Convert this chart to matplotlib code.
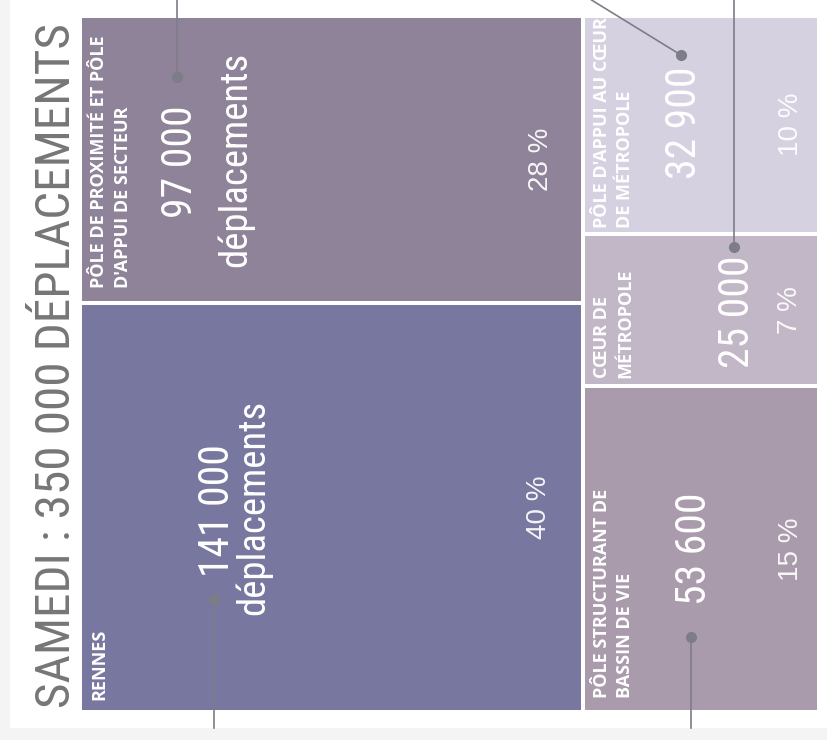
import matplotlib
matplotlib.use('Agg')
import matplotlib.pyplot as plt
from matplotlib.patches import Rectangle

# données : déplacements du samedi par type de pôle
zones = ['RENNES',
         "PÔLE DE PROXIMITÉ ET PÔLE\nD'APPUI DE SECTEUR",
         'PÔLE STRUCTURANT DE\nBASSIN DE VIE',
         'CŒUR DE\nMÉTROPOLE',
         "PÔLE D'APPUI AU CŒUR\nDE MÉTROPOLE"]
trips = [141000, 97000, 53600, 25000, 32900]
shares = [40, 28, 15, 7, 10]
column = [0, 0, 1, 1, 1]
unit = ['déplacements', 'déplacements', '', '', '']
title = 'SAMEDI : 350 000 DÉPLACEMENTS'

colors = ['#77779f', '#8e8398', '#a99bac', '#c1b7c7', '#d6d1e0']

# mise en page (pixels de la figure)
W, H = 827, 740
bx0, by0, bx1, by1 = 80, 16, 819, 712
inset = 2
label_dy = [10, 13, 12, 6, 3]             # début de l'étiquette depuis le bas du bloc
num_base = [147, 110, 121, 164, 111]      # ligne de base du nombre depuis le bord gauche
unit_base = [182, 164, 0, 0, 0]
num_dy = [3, 2, 0, 2, -2]
pct_off = [35, 33, 19, 20, 19]           # ligne de base du % depuis le bord droit
dot_dy = [92, -82, 88, -63, -70]
lead_to = [(0, 728), (0, 0), (0, 728), (0, 0), (-89, 0)]

cond = 'Roboto Condensed'
label_font = dict(family='Open Sans', fontstretch='condensed', fontweight='bold')

fig = plt.figure(figsize=(W / 100, H / 100), dpi=100, facecolor='#f4f4f4')
ax = fig.add_axes([0, 0, 1, 1])
ax.set_xlim(0, W)
ax.set_ylim(H, 0)
ax.axis('off')

ax.add_patch(Rectangle((10, 0), W - 10, 728, fc='white', ec='none', zorder=0))

ax.text(70, 708, title, rotation=90, rotation_mode='anchor', ha='left', va='baseline',
        fontsize=35.5, family=cond, color='#767676')

total = sum(shares)
col_share = [sum(s for s, c in zip(shares, column) if c == k) for k in (0, 1)]
col_x = [bx0, bx0 + (bx1 - bx0) * col_share[0] / total]
col_w = [col_x[1] - bx0, bx1 - col_x[1]]
col_top = [by1, by1]

for i in range(len(zones)):
    c = column[i]
    h = (by1 - by0) * shares[i] / col_share[c]
    x0 = col_x[c] + inset
    w = col_w[c] - 2 * inset
    y1 = col_top[c] - inset
    y0 = col_top[c] - h + inset
    col_top[c] -= h
    ax.add_patch(Rectangle((x0, y0), w, y1 - y0, fc=colors[i], ec='none', zorder=1))
    yc = (y0 + y1) / 2

    ax.text(x0 + 8, y1 - label_dy[i], zones[i], rotation=90, rotation_mode='anchor',
            ha='left', va='top', fontsize=13, linespacing=1.4,
            color='white', zorder=4, **label_font)

    nx = x0 + num_base[i]
    ax.text(nx, yc + num_dy[i], f'{trips[i]:,}'.replace(',', ' '), rotation=90,
            rotation_mode='anchor', ha='center', va='baseline', fontsize=30,
            family=cond, color='white', zorder=4)
    if unit[i]:
        ax.text(x0 + unit_base[i], yc, unit[i], rotation=90, rotation_mode='anchor',
                ha='center', va='baseline', fontsize=28, family=cond,
                color='white', zorder=4)

    ax.text(x0 + w - pct_off[i], yc, f'{shares[i]} %', rotation=90, rotation_mode='anchor',
            ha='center', va='baseline', fontsize=20, family='Liberation Sans',
            color='white', alpha=0.92, zorder=4)

    # point et trait de rappel
    dx, dy = nx - 15, yc + dot_dy[i]
    ex, ey = dx + lead_to[i][0], lead_to[i][1]
    ax.plot([dx, ex], [dy, ey], color='#7d7d88', lw=1.2, zorder=3)
    ax.plot(dx, dy, 'o', ms=7, color='#7d7d88', zorder=3)

fig.savefig('out.png', dpi=100, facecolor=fig.get_facecolor())
